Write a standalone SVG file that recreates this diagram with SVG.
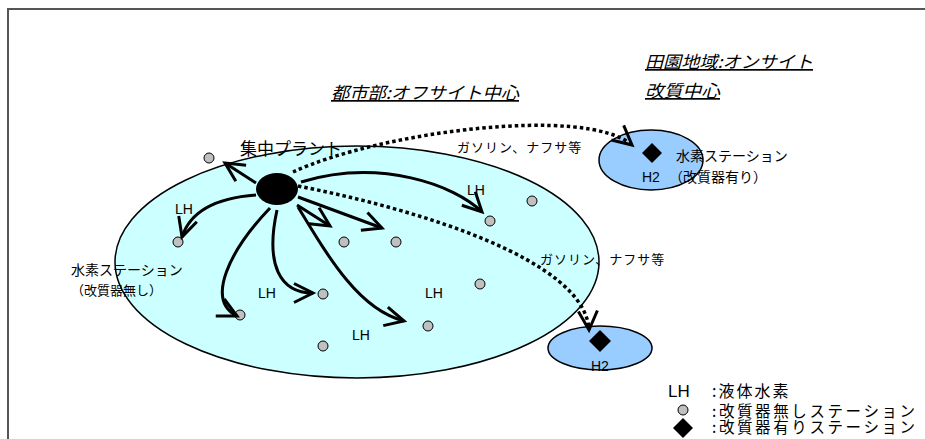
<svg xmlns="http://www.w3.org/2000/svg" width="925" height="439" viewBox="0 0 925 439">
<defs>
<style>
.jp{font-family:"Noto Sans CJK JP","Liberation Sans",sans-serif;fill:#000}
.lh{font-family:"Liberation Sans",Arial,sans-serif;font-size:14px;fill:#000}
.ttl{font-family:"Noto Sans CJK JP","Liberation Sans",sans-serif;font-size:17px;font-style:italic;text-decoration:underline;fill:#000}
.st{fill:#c0c0c0;stroke:#000;stroke-width:1}
.sol{fill:none;stroke:#000;stroke-width:3;marker-end:url(#v)}
.dot{fill:none;stroke:#000;stroke-width:3.5;stroke-dasharray:3.5 3;marker-end:url(#v)}
</style>
<marker id="v" markerUnits="userSpaceOnUse" markerWidth="30" markerHeight="30" viewBox="-22 -15 30 30" refX="0" refY="0" orient="auto">
<path d="M-19,-9.5 L0,0 L-19,9.5" fill="none" stroke="#000" stroke-width="3" stroke-dasharray="none"/>
</marker>
</defs>
<rect width="925" height="439" fill="#fff"/>
<g id="frame">
<path d="M7,9 H925 M8,8 V439" stroke="#555" stroke-width="2" fill="none"/>
</g>
<g id="titles">
<text class="ttl" x="645" y="68" textLength="168" lengthAdjust="spacingAndGlyphs">田園地域:オンサイト</text>
<text class="ttl" x="645" y="97" textLength="75" lengthAdjust="spacingAndGlyphs">改質中心</text>
<text class="ttl" x="331" y="99" textLength="188" lengthAdjust="spacingAndGlyphs">都市部:オフサイト中心</text>
</g>
<g id="city">
<ellipse cx="357" cy="262" rx="242" ry="116" fill="#ccffff" stroke="#000" stroke-width="1.5"/>
</g>
<g id="rural-station">
<ellipse cx="651" cy="160" rx="52" ry="30" fill="#99ccff" stroke="#000" stroke-width="1.5"/>
<path d="M652,143 L662,153 L652,163 L642,153 Z" fill="#000"/>
<text class="lh" x="642" y="182">H2</text>
<text class="jp" x="676" y="161" font-size="14">水素ステーション</text>
<text class="jp" x="669" y="182" font-size="14">（改質器有り）</text>
</g>
<g id="lower-station">
<ellipse cx="600" cy="348" rx="52" ry="22" fill="#99ccff" stroke="#000" stroke-width="1.5"/>
<path d="M600,330 L611,341 L600,352 L589,341 Z" fill="#000"/>
<text class="lh" x="591" y="371">H2</text>
</g>
<g id="stations">
<circle class="st" cx="209" cy="158" r="5"/>
<circle class="st" cx="178" cy="242" r="5"/>
<circle class="st" cx="344" cy="242" r="5"/>
<circle class="st" cx="396" cy="242" r="5"/>
<circle class="st" cx="490" cy="221" r="5"/>
<circle class="st" cx="532" cy="201" r="5"/>
<circle class="st" cx="480" cy="284" r="5"/>
<circle class="st" cx="323" cy="294" r="5"/>
<circle class="st" cx="240" cy="315" r="5"/>
<circle class="st" cx="428" cy="326" r="5"/>
<circle class="st" cx="323" cy="346" r="5"/>
</g>
<g id="connectors">
<path class="sol" d="M256,183 L225,163"/>
<path class="sol" d="M256,195 C215,198 190,212 182,237"/>
<path class="sol" d="M270,208 C230,250 205,300 237,316"/>
<path class="sol" d="M277,210 C265,265 280,293 313,293"/>
<path class="sol" d="M298,207 C330,260 360,310 404,321"/>
<path class="sol" d="M297,205 L330,226"/>
<path class="sol" d="M298,197 L382,228"/>
<path class="sol" d="M301,182 C380,158 455,185 482,212"/>
<path class="dot" d="M293,172 C380,132 585,105 632,145"/>
<path class="dot" d="M298,186 C420,210 585,260 589,330"/>
</g>
<g id="plant">
<ellipse cx="277" cy="189" rx="21" ry="16" fill="#000"/>
<text class="jp" x="240" y="155" font-size="17">集中プラント</text>
</g>
<g id="labels">
<text class="jp" x="457" y="152" font-size="13" letter-spacing="1">ガソリン、ナフサ等</text>
<text class="jp" x="540" y="264" font-size="13" letter-spacing="1">ガソリン、ナフサ等</text>
<text class="jp" x="71" y="275" font-size="14">水素ステーション</text>
<text class="jp" x="71" y="295" font-size="13">（改質器無し）</text>
<text class="lh" x="175" y="214">LH</text>
<text class="lh" x="467" y="195">LH</text>
<text class="lh" x="258" y="298">LH</text>
<text class="lh" x="425" y="298">LH</text>
<text class="lh" x="352" y="340">LH</text>
</g>
<g id="legend">
<text x="668" y="397" font-family="Liberation Sans, Arial, sans-serif" font-size="17">LH</text>
<text class="jp" x="712" y="397" font-size="16" letter-spacing="2">:液体水素</text>
<circle class="st" cx="683" cy="410" r="5"/>
<text class="jp" x="712" y="417" font-size="15.5" letter-spacing="2.6">:改質器無しステーション</text>
<path d="M683,418 L693,428 L683,438 L673,428 Z" fill="#000"/>
<text class="jp" x="712" y="433" font-size="15.5" letter-spacing="2.6">:改質器有りステーション</text>
</g>
</svg>
